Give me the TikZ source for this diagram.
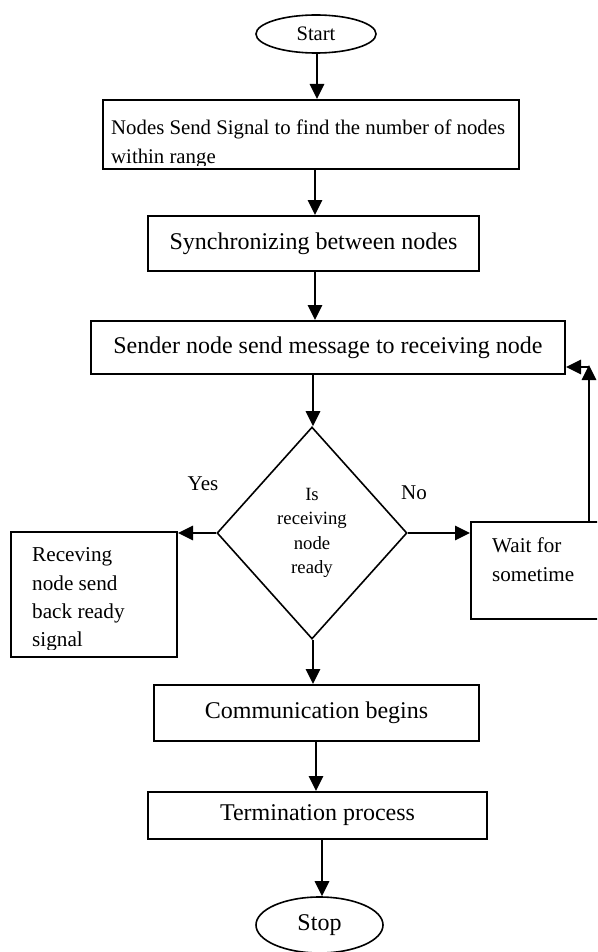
\documentclass[tikz,border=0pt]{standalone}
\usepackage{fontspec}
\setmainfont{Liberation Serif}
\usetikzlibrary{shapes.geometric,arrows.meta}
\begin{document}
\begin{tikzpicture}[x=1pt,y=-1pt,
  box/.style={draw, line width=2pt, rectangle, inner sep=0pt, font=\fontsize{24}{28}\selectfont},
  oval/.style={draw, line width=1.6pt, ellipse, inner sep=0pt},
  arr/.style={line width=2.8pt, -{Triangle[length=15pt,width=14pt]}},
  lbl/.style={inner sep=0pt, anchor=base, font=\fontsize{21}{25}\selectfont},
  para/.style={inner sep=0pt, anchor=north west, align=left}]
\useasboundingbox (0,0) rectangle (597,952);
\clip (0,0) rectangle (597,952);
\fill[white] (0,0) rectangle (597,952);

% nodes
\node[oval, minimum width=120pt, minimum height=38pt, font=\fontsize{20.6}{24}\selectfont] (start) at (316,34) {Start};
\node[box, minimum width=416pt, minimum height=69pt] (b1) at (311,134.5) {};
\begin{scope}
  \clip (103,100) rectangle (519,166);
  \node[para, font=\fontsize{20.8}{29}\selectfont] (b1t) at (111,120) {Nodes Send Signal to find the number of nodes\\within range};
\end{scope}
\node[box, minimum width=331pt, minimum height=55pt] (b2) at (313.5,243.5) {Synchronizing between nodes};
\node[box, minimum width=474pt, minimum height=53pt] (b3) at (328,347.5) {Sender node send message to receiving node};
\node[draw, diamond, line width=1.6pt, minimum width=190pt, minimum height=212pt, inner sep=0pt, align=center, font=\fontsize{18.7}{24.5}\selectfont] (d) at (312,533) {Is\\receiving\\node\\ready};
\node[box, minimum width=166pt, minimum height=125pt] (lb) at (94,594.5) {};
\begin{scope}
  \clip (11,532) rectangle (177,649);
  \node[para, font=\fontsize{21.2}{28.3}\selectfont] (lbt) at (32,547.5) {Receving\\node send\\back ready\\signal};
\end{scope}
\node[box, minimum width=129pt, minimum height=97pt] (wb) at (535.5,570.5) {};
\node[para, font=\fontsize{21.1}{29}\selectfont] (wbt) at (492,537.6) {Wait for\\sometime};
\node[box, minimum width=325pt, minimum height=56pt] (comm) at (316.5,713) {Communication begins};
\node[box, minimum width=339pt, minimum height=47pt] (term) at (317.5,815.5) {Termination process};
\node[oval, minimum width=127pt, minimum height=56pt, font=\fontsize{24}{28}\selectfont] (stop) at (319.5,925) {Stop};
\node[lbl] (yes) at (203,490) {Yes};
\node[lbl] (no) at (414,499) {No};

% connectors
\draw[arr] ([xshift=1pt]start.south) -- ([xshift=1pt]start.south |- b1.north);
\draw[arr] ([xshift=4pt]b1.south) -- ([xshift=4pt]b1.south |- b2.north);
\draw[arr] ([xshift=1.5pt]b2.south) -- ([xshift=1.5pt]b2.south |- b3.north);
\draw[arr] ([xshift=-15pt]b3.south) -- ([xshift=-15pt]b3.south |- d.north);
\draw[arr] ([xshift=1pt]d.south) -- ([xshift=1pt]d.south |- comm.north);
\draw[arr] ([xshift=-0.5pt]comm.south) -- ([xshift=-0.5pt]comm.south |- term.north);
\draw[arr] ([xshift=4.5pt]term.south) -- ([xshift=4.5pt]term.south |- stop.north);
\draw[arr] (d.west) -- (d.west -| lb.east);
\draw[arr] (d.east) -- (d.east -| wb.west);
\coordinate (fb) at (589,365);
\draw[arr] (wb.north -| fb) -- (fb);
\draw[arr] ([yshift=-2pt]fb) -- ([yshift=-2pt]fb -| b3.east);
\end{tikzpicture}
\end{document}
